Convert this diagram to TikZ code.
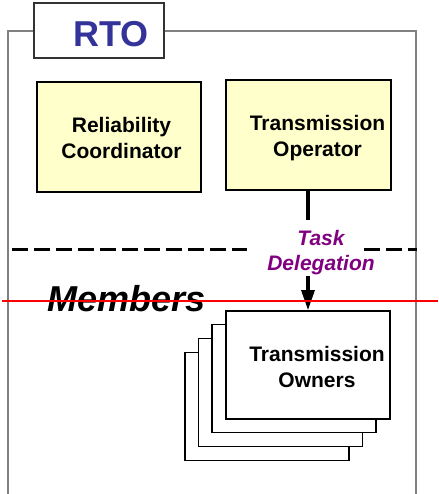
\documentclass[tikz,border=0pt]{standalone}
\usepackage{fontspec}
\setmainfont{Liberation Sans}
\usetikzlibrary{arrows.meta}
\definecolor{ryellow}{HTML}{FFFFCC}
\definecolor{rblue}{HTML}{333399}
\definecolor{rpurple}{HTML}{800080}
\definecolor{rred}{HTML}{FF0000}
\begin{document}
\begin{tikzpicture}[x=1pt,y=-1pt,
  ybox/.style={draw=black, line width=2pt, fill=ryellow, minimum width=164pt, minimum height=110pt, inner sep=0pt},
  wbox/.style={draw=black, line width=1.8pt, fill=white, minimum width=164pt, minimum height=108pt, inner sep=0pt},
  lbl/.style={font=\fontsize{21}{25.5}\selectfont\bfseries, align=center, inner sep=0pt},
  dline/.style={line width=3.2pt, dash pattern=on 16pt off 6pt},
  conn/.style={line width=3.2pt}]
\useasboundingbox (0,0) rectangle (438,494);
% outer frame
\draw[gray, line width=1.2pt] (8,494) -- (8,31) -- (416,31) -- (416,494);
% RTO tab
\node[draw=black!80, line width=1.5pt, fill=white, minimum width=130pt, minimum height=55pt, inner sep=0pt] (rtobox) at (99,30.5) {};
\node[font=\fontsize{36}{40}\selectfont\bfseries, text=rblue, inner sep=0pt] (rtot) at (111,34) {RTO};
% yellow boxes
\node[ybox] (rc) at (119,137) {};
\node[lbl] (rct) at (121.5,138) {Reliability\\Coordinator};
\node[ybox, minimum width=165pt] (to) at (308.5,135) {};
\node[lbl] (tot) at (317.5,138) {Transmission\\Operator};
% dashed boundary
\draw[dline] (12,249.5) -- (247,249.5);
\draw[dline] (364,249.5) -- (417,249.5);
% task delegation
\node[lbl, font=\fontsize{21}{25.5}\selectfont\bfseries\itshape, text=rpurple] (td) at (321,252.5) {Task\\Delegation};
% transmission owners stack
\node[wbox] (tow4) at (267,406.5) {};
\node[wbox] (tow3) at (280.5,392.5) {};
\node[wbox] (tow2) at (294,378.5) {};
\node[wbox] (tow) at (308,365) {};
\node[lbl, font=\fontsize{21}{26}\selectfont\bfseries] (towt) at (317,366.5) {Transmission\\Owners};
% connector
\coordinate (c1) at (308,220);
\coordinate (c2) at (308,276);
\draw[conn] (to.south -| c1) -- (c1);
\draw[conn, -{Triangle[length=20pt,width=13pt]}] (c2) -- (c2 |- tow.north);
% members
\node[font=\fontsize{36}{40}\selectfont\bfseries\itshape, inner sep=0pt] (mem) at (126.5,298.8) {Members};
% red line
\draw[rred, line width=2.8pt] (2,301) -- (438,301);
\end{tikzpicture}
\end{document}
